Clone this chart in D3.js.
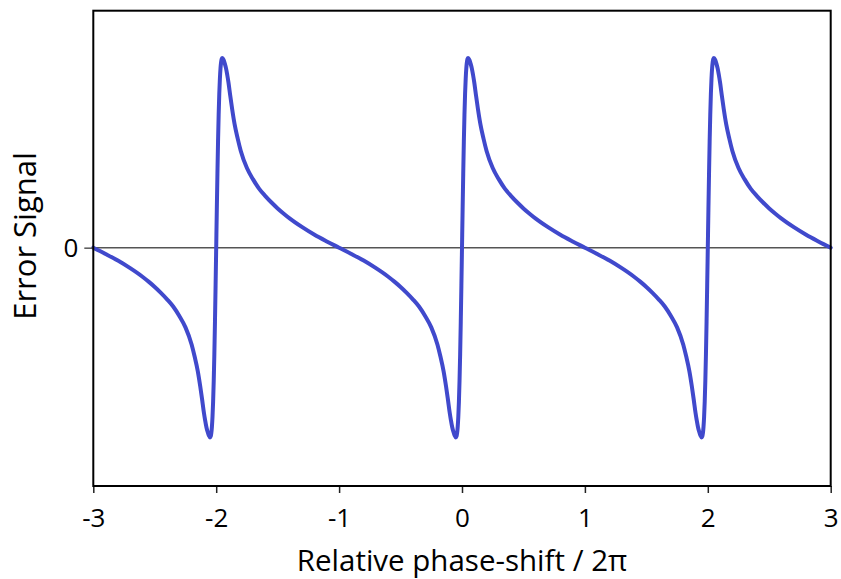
<!DOCTYPE html>
<html>
<head>
<meta charset="utf-8">
<script src="https://cdn.jsdelivr.net/npm/d3@7"></script>
<style>
  html, body { margin: 0; padding: 0; background: #fff; }
  svg { display: block; }
  text { font-family: "Open Sans", "Noto Sans", sans-serif; fill: #000; }
</style>
</head>
<body>
<svg id="chart" width="841" height="579"></svg>
<script>
// ---- data ----
const phaseShift = [
  -3, -2.9, -2.8, -2.7, -2.6, -2.55, -2.5, -2.45, -2.4, -2.35, -2.3, -2.25, -2.2, -2.175, -2.15, -2.13, -2.115, -2.1, -2.09, -2.08, -2.07, -2.06, -2.05, -2.045, -2.04, -2.035, -2.03, -2.025, -2.02, -2.015, -2.01, -2.005, -2,
  -1.995, -1.99, -1.985, -1.98, -1.975, -1.97, -1.965, -1.96, -1.955, -1.95, -1.94, -1.93, -1.92, -1.91, -1.9, -1.885, -1.87, -1.85, -1.825, -1.8, -1.75, -1.7, -1.65, -1.6, -1.55, -1.5, -1.45, -1.4, -1.3, -1.2, -1.1, -1,
  -0.9, -0.8, -0.7, -0.6, -0.55, -0.5, -0.45, -0.4, -0.35, -0.3, -0.25, -0.2, -0.175, -0.15, -0.13, -0.115, -0.1, -0.09, -0.08, -0.07, -0.06, -0.05, -0.045, -0.04, -0.035, -0.03, -0.025, -0.02, -0.015, -0.01, -0.005, 0,
  0.005, 0.01, 0.015, 0.02, 0.025, 0.03, 0.035, 0.04, 0.045, 0.05, 0.06, 0.07, 0.08, 0.09, 0.1, 0.115, 0.13, 0.15, 0.175, 0.2, 0.25, 0.3, 0.35, 0.4, 0.45, 0.5, 0.55, 0.6, 0.7, 0.8, 0.9, 1,
  1.1, 1.2, 1.3, 1.4, 1.45, 1.5, 1.55, 1.6, 1.65, 1.7, 1.75, 1.8, 1.825, 1.85, 1.87, 1.885, 1.9, 1.91, 1.92, 1.93, 1.94, 1.95, 1.955, 1.96, 1.965, 1.97, 1.975, 1.98, 1.985, 1.99, 1.995, 2,
  2.005, 2.01, 2.015, 2.02, 2.025, 2.03, 2.035, 2.04, 2.045, 2.05, 2.06, 2.07, 2.08, 2.09, 2.1, 2.115, 2.13, 2.15, 2.175, 2.2, 2.25, 2.3, 2.35, 2.4, 2.45, 2.5, 2.55, 2.6, 2.7, 2.8, 2.9, 3
];
const errorSignal = [
  0, -0.033, -0.068, -0.108, -0.153, -0.179, -0.207, -0.238, -0.272, -0.31, -0.36, -0.42, -0.51, -0.575, -0.65, -0.73, -0.798, -0.87, -0.91, -0.945, -0.97, -0.99, -1.0, -0.995, -0.978, -0.945, -0.89, -0.81, -0.7, -0.56, -0.39, -0.2, 0,
  0.2, 0.39, 0.56, 0.7, 0.81, 0.89, 0.945, 0.978, 0.995, 1.0, 0.99, 0.97, 0.945, 0.91, 0.87, 0.798, 0.73, 0.65, 0.575, 0.51, 0.42, 0.36, 0.31, 0.272, 0.238, 0.207, 0.179, 0.153, 0.108, 0.068, 0.033, 0,
  -0.033, -0.068, -0.108, -0.153, -0.179, -0.207, -0.238, -0.272, -0.31, -0.36, -0.42, -0.51, -0.575, -0.65, -0.73, -0.798, -0.87, -0.91, -0.945, -0.97, -0.99, -1.0, -0.995, -0.978, -0.945, -0.89, -0.81, -0.7, -0.56, -0.39, -0.2, 0,
  0.2, 0.39, 0.56, 0.7, 0.81, 0.89, 0.945, 0.978, 0.995, 1.0, 0.99, 0.97, 0.945, 0.91, 0.87, 0.798, 0.73, 0.65, 0.575, 0.51, 0.42, 0.36, 0.31, 0.272, 0.238, 0.207, 0.179, 0.153, 0.108, 0.068, 0.033, 0,
  -0.033, -0.068, -0.108, -0.153, -0.179, -0.207, -0.238, -0.272, -0.31, -0.36, -0.42, -0.51, -0.575, -0.65, -0.73, -0.798, -0.87, -0.91, -0.945, -0.97, -0.99, -1.0, -0.995, -0.978, -0.945, -0.89, -0.81, -0.7, -0.56, -0.39, -0.2, 0,
  0.2, 0.39, 0.56, 0.7, 0.81, 0.89, 0.945, 0.978, 0.995, 1.0, 0.99, 0.97, 0.945, 0.91, 0.87, 0.798, 0.73, 0.65, 0.575, 0.51, 0.42, 0.36, 0.31, 0.272, 0.238, 0.207, 0.179, 0.153, 0.108, 0.068, 0.033, 0
];
const xTickValues = [-3, -2, -1, 0, 1, 2, 3];
const xTickLabels = ["-3", "-2", "-1", "0", "1", "2", "3"];
const yTickValues = [0];
const yTickLabels = ["0"];
const xTitle = "Relative phase-shift / 2\u03C0";
const yTitle = "Error Signal";

// ---- layout ----
const W = 841, H = 579;
const margin = { top: 10.7, right: 10.3, bottom: 93, left: 93.3 };
const svg = d3.select("#chart");

const x = d3.scaleLinear().domain([-3, 3]).range([margin.left, W - margin.right]);
const y = d3.scaleLinear().domain([-1.256, 1.249]).range([H - margin.bottom, margin.top]);

// zero line
svg.append("line")
  .attr("x1", x(-3)).attr("x2", x(3))
  .attr("y1", y(0)).attr("y2", y(0))
  .attr("stroke", "#555").attr("stroke-width", 1.5);

// curve
const pts = phaseShift.map((p, i) => [p, errorSignal[i]]);
const line = d3.line().x(d => x(d[0])).y(d => y(d[1])).curve(d3.curveMonotoneX);
svg.append("path")
  .datum(pts)
  .attr("d", line)
  .attr("fill", "none")
  .attr("stroke", "#4049cc")
  .attr("stroke-width", 4)
  .attr("stroke-linejoin", "round")
  .attr("stroke-linecap", "round");

// axes
const xAxis = d3.axisBottom(x).tickValues(xTickValues)
  .tickFormat((d, i) => xTickLabels[i]).tickSize(7).tickPadding(16).tickSizeOuter(0);
const gx = svg.append("g").attr("transform", `translate(0,${H - margin.bottom})`).call(xAxis);

const yAxis = d3.axisLeft(y).tickValues(yTickValues)
  .tickFormat((d, i) => yTickLabels[i]).tickSize(9).tickPadding(6).tickSizeOuter(0);
const gy = svg.append("g").attr("transform", `translate(${margin.left},0)`).call(yAxis);

[gx, gy].forEach(g => {
  g.select(".domain").remove();
  g.selectAll(".tick line").attr("stroke", "#222").attr("stroke-width", 1.5);
  g.selectAll(".tick text").attr("font-size", 26).attr("fill", "#000")
    .style("font-family", '"Open Sans", "Noto Sans", sans-serif');
});
gy.selectAll(".tick line").attr("stroke", "#555");

// frame
svg.append("rect")
  .attr("x", margin.left).attr("y", margin.top)
  .attr("width", W - margin.left - margin.right)
  .attr("height", H - margin.top - margin.bottom)
  .attr("fill", "none").attr("stroke", "#000").attr("stroke-width", 2);

// titles
svg.append("text")
  .attr("x", (x(-3) + x(3)) / 2).attr("y", 571)
  .attr("text-anchor", "middle").attr("font-size", 29.5)
  .text(xTitle);
svg.append("text")
  .attr("transform", `translate(36,236) rotate(-90)`)
  .attr("text-anchor", "middle").attr("font-size", 31)
  .text(yTitle);
</script>
</body>
</html>
